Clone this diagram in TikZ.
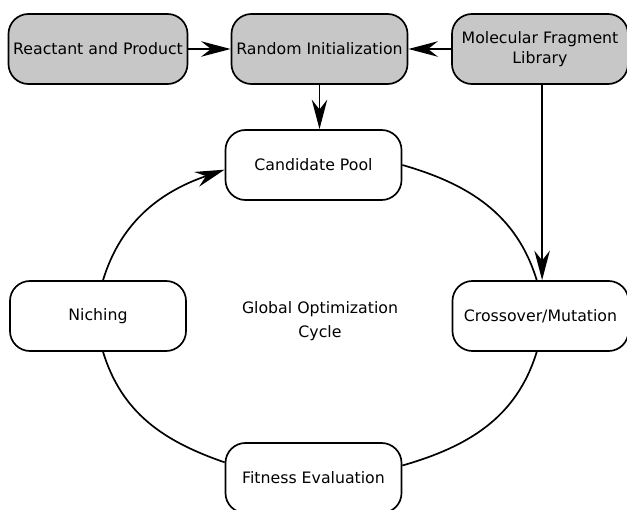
\documentclass[tikz,border=0pt]{standalone}
\usepackage{fontspec}
\setmainfont{DejaVu Sans}
\usetikzlibrary{arrows.meta}
\tikzset{box/.style = {draw, fill=white, line width=1.2pt, rectangle, rounded corners=0.5cm, minimum height=1.75cm, minimum width=4.4cm, align=center, font=\fontsize{11.2}{14.5}\selectfont},
         grey/.style = {box, fill=black!22},
         arr/.style = {line width=1.2pt, -{Stealth[length=21pt, width=11pt, inset=7pt]}},
         cyc/.style = {line width=1.2pt}}

\begin{document}
\begin{tikzpicture}[x=0.025cm, y=0.025cm]
    \useasboundingbox (0,0) rectangle (627,509);
    \node[grey](rp)at(98,460){Reactant and Product};
    \node[grey](init)at(319.5,460){Random Initialization};
    \node[grey](frag)at(540,460){Molecular Fragment\\Library};
    \node[box](pool)at(313.5,344){Candidate Pool};
    \node[box](niche)at(98,193){Niching};
    \node[box](cross)at(540.5,193){Crossover/Mutation};
    \node[box](fit)at(313.5,31){Fitness Evaluation};
    \node[align=center, font=\fontsize{11.2}{17}\selectfont](goc)at(320,188){Global Optimization\\Cycle};
    \draw[arr](rp.east)--(init.west);
    \draw[arr](frag.west)--(init.east);
    \draw[arr](init.south)--(init.south|-pool.north);
    \draw[arr]([xshift=1.5pt]frag.south)--([xshift=1.5pt]frag.south|-cross.north);
    % optimization cycle
    \draw[arr](niche.82)to[out=73, in=199](pool.183);
    \draw[cyc](pool.east)to[out=-16, in=107](cross.96);
    \draw[cyc](cross.264)to[out=-107, in=16](fit.8);
    \draw[cyc](fit.170)to[out=161, in=-73](niche.278);
\end{tikzpicture}
\end{document}
